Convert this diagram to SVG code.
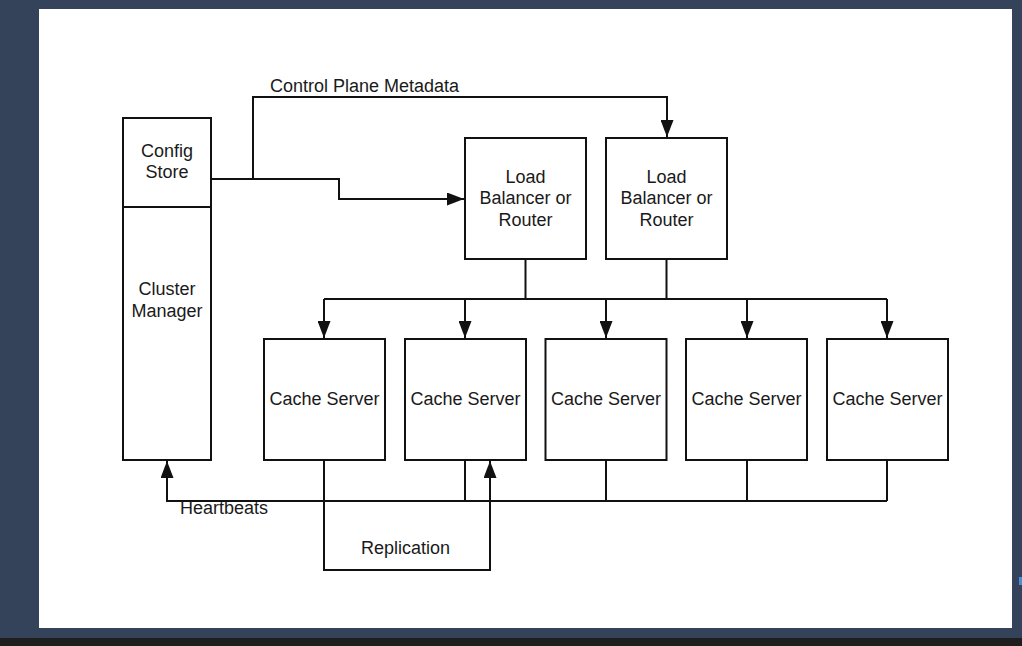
<svg xmlns="http://www.w3.org/2000/svg" width="1022" height="646" viewBox="0 0 1022 646">
<style>
.box{fill:#fff;stroke:#111;stroke-width:2}
.lbl{font-family:"Liberation Sans",Arial,sans-serif;font-size:18px;fill:#1a1a1a;text-anchor:middle}
.edge{fill:none;stroke:#111;stroke-width:2}
.elbl{font-family:"Liberation Sans",Arial,sans-serif;font-size:18px;fill:#1a1a1a}
</style>
<defs>
<marker id="arr" markerUnits="userSpaceOnUse" markerWidth="17" markerHeight="13" refX="17" refY="6.5" orient="auto">
<path d="M0,0 L17,6.5 L0,13 z" fill="#111"/>
</marker>
</defs>
<rect x="0" y="0" width="1022" height="646" fill="#34435a"/>
<rect x="0" y="638" width="1022" height="8" fill="#1e1e1e"/>
<rect x="39" y="9" width="973" height="619" fill="#fff"/>
<rect x="1019" y="577" width="3" height="8" fill="#4a8fd0"/>

<g id="connectors">
<path class="edge" d="M211,179 H339 V199 H464" marker-end="url(#arr)"/>
<path class="edge" d="M253,179 V97 H667 V137" marker-end="url(#arr)"/>
<path class="edge" d="M525.5,259 V299 M666.5,259 V299 M324,299 H887"/>
<path class="edge" d="M324,299 V338" marker-end="url(#arr)"/>
<path class="edge" d="M465,299 V338" marker-end="url(#arr)"/>
<path class="edge" d="M606,299 V338" marker-end="url(#arr)"/>
<path class="edge" d="M747,299 V338" marker-end="url(#arr)"/>
<path class="edge" d="M887,299 V338" marker-end="url(#arr)"/>
<path class="edge" d="M465,460 V501 M606,460 V501 M747,460 V501 M887,460 V501"/>
<path class="edge" d="M887,501 H167 V461" marker-end="url(#arr)"/>
<path class="edge" d="M324,460 V570 H490 V461" marker-end="url(#arr)"/>
<text class="elbl" x="270" y="92">Control Plane Metadata</text>
<text class="elbl" x="180" y="514">Heartbeats</text>
<text class="elbl" x="361" y="554">Replication</text>
</g>

<g id="config-store">
<rect class="box" x="123" y="118" width="88" height="89"/>
<text class="lbl" x="167" y="156.5">Config</text>
<text class="lbl" x="167" y="177.5">Store</text>
</g>
<g id="cluster-manager">
<rect class="box" x="123" y="207" width="88" height="253"/>
<text class="lbl" x="167" y="294.5">Cluster</text>
<text class="lbl" x="167" y="316.5">Manager</text>
</g>
<g id="lb1">
<rect class="box" x="465" y="138" width="121" height="121"/>
<text class="lbl" x="525.5" y="182.5">Load</text>
<text class="lbl" x="525.5" y="204">Balancer or</text>
<text class="lbl" x="525.5" y="225.5">Router</text>
</g>
<g id="lb2">
<rect class="box" x="606" y="138" width="121" height="121"/>
<text class="lbl" x="666.5" y="182.5">Load</text>
<text class="lbl" x="666.5" y="204">Balancer or</text>
<text class="lbl" x="666.5" y="225.5">Router</text>
</g>
<g id="cache1">
<rect class="box" x="264" y="339" width="121" height="121"/>
<text class="lbl" x="324.5" y="404.5">Cache Server</text>
</g>
<g id="cache2">
<rect class="box" x="405" y="339" width="121" height="121"/>
<text class="lbl" x="465.5" y="404.5">Cache Server</text>
</g>
<g id="cache3">
<rect class="box" x="545.5" y="339" width="121" height="121"/>
<text class="lbl" x="606" y="404.5">Cache Server</text>
</g>
<g id="cache4">
<rect class="box" x="686" y="339" width="121" height="121"/>
<text class="lbl" x="746.5" y="404.5">Cache Server</text>
</g>
<g id="cache5">
<rect class="box" x="827" y="339" width="121" height="121"/>
<text class="lbl" x="887.5" y="404.5">Cache Server</text>
</g>
</svg>
